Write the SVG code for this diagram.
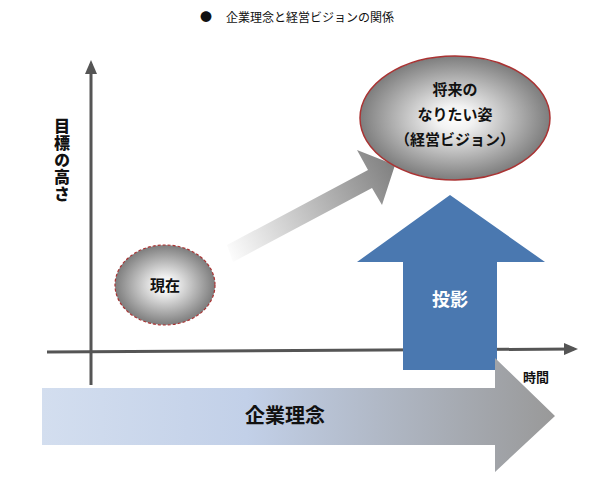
<svg xmlns="http://www.w3.org/2000/svg" width="612" height="498" viewBox="0 0 612 498">
<style>
text{font-family:"Noto Sans CJK JP","Liberation Sans",sans-serif;fill:#111}
.b{font-weight:bold}
</style>
<defs>
<radialGradient id="rg" cx="50%" cy="50%" r="50%"><stop offset="0" stop-color="#fff"/><stop offset="0.2" stop-color="#f2f2f2"/><stop offset="1" stop-color="#7d7d7d"/></radialGradient>
<linearGradient id="ga" x1="225" y1="255" x2="395" y2="165" gradientUnits="userSpaceOnUse"><stop offset="0" stop-color="#fff"/><stop offset="1" stop-color="#808080"/></linearGradient>
<linearGradient id="gb" x1="42" y1="0" x2="555" y2="0" gradientUnits="userSpaceOnUse"><stop offset="0" stop-color="#d3deef"/><stop offset="0.4" stop-color="#c2d0e8"/><stop offset="1" stop-color="#999"/></linearGradient>
<marker id="ah" markerWidth="14" markerHeight="12" refX="10" refY="6" orient="auto" markerUnits="userSpaceOnUse" viewBox="0 0 14 12"><path d="M0,0L14,6L0,12z" fill="#555"/></marker>
</defs>
<text x="200" y="22" font-size="12">●</text>
<text x="226" y="22" font-size="12">企業理念と経営ビジョンの関係</text>
<g id="connectors">
<line x1="91" y1="385" x2="91" y2="64" stroke="#555" stroke-width="3" marker-end="url(#ah)"/>
<line x1="47" y1="352" x2="574" y2="349" stroke="#555" stroke-width="3" marker-end="url(#ah)"/>
<path d="M227,245 L368,170 L357,150 L395,165 L382,205 L372,188 L233,262 z" fill="url(#ga)"/>
</g>
<g id="ylabel"><text x="62" y="118" font-size="16" class="b" style="writing-mode:vertical-rl;letter-spacing:1px;font-weight:900" text-anchor="start">目標の高さ</text></g>
<g id="genzai"><ellipse cx="165" cy="285" rx="50" ry="40" fill="url(#rg)" stroke="#a33" stroke-width="1.2" stroke-dasharray="3,2"/><text x="165" y="291" font-size="15" class="b" text-anchor="middle">現在</text></g>
<g id="vision"><ellipse cx="455" cy="118" rx="95" ry="62" fill="url(#rg)" stroke="#a33" stroke-width="1.5"/>
<text x="455" y="95" font-size="15" class="b" text-anchor="middle" fill="#333">将来の</text>
<text x="455" y="120" font-size="15" class="b" text-anchor="middle" fill="#333">なりたい姿</text>
<text x="455" y="145" font-size="15" class="b" text-anchor="middle" fill="#333">（経営ビジョン）</text></g>
<g id="touei"><path d="M450,195 L545,262 L497,262 L497,370 L403,370 L403,262 L357,262 z" fill="#4a78b0"/><text x="450" y="306" font-size="18" class="b" text-anchor="middle" style="fill:#fff">投影</text></g>
<g id="rinen"><path d="M42,388 L495,388 L495,358 L555,416 L495,472 L495,445 L42,445 z" fill="url(#gb)"/><text x="285" y="423" font-size="20" class="b" text-anchor="middle">企業理念</text></g>
<text x="536" y="382" font-size="13" class="b" text-anchor="middle">時間</text>
</svg>
